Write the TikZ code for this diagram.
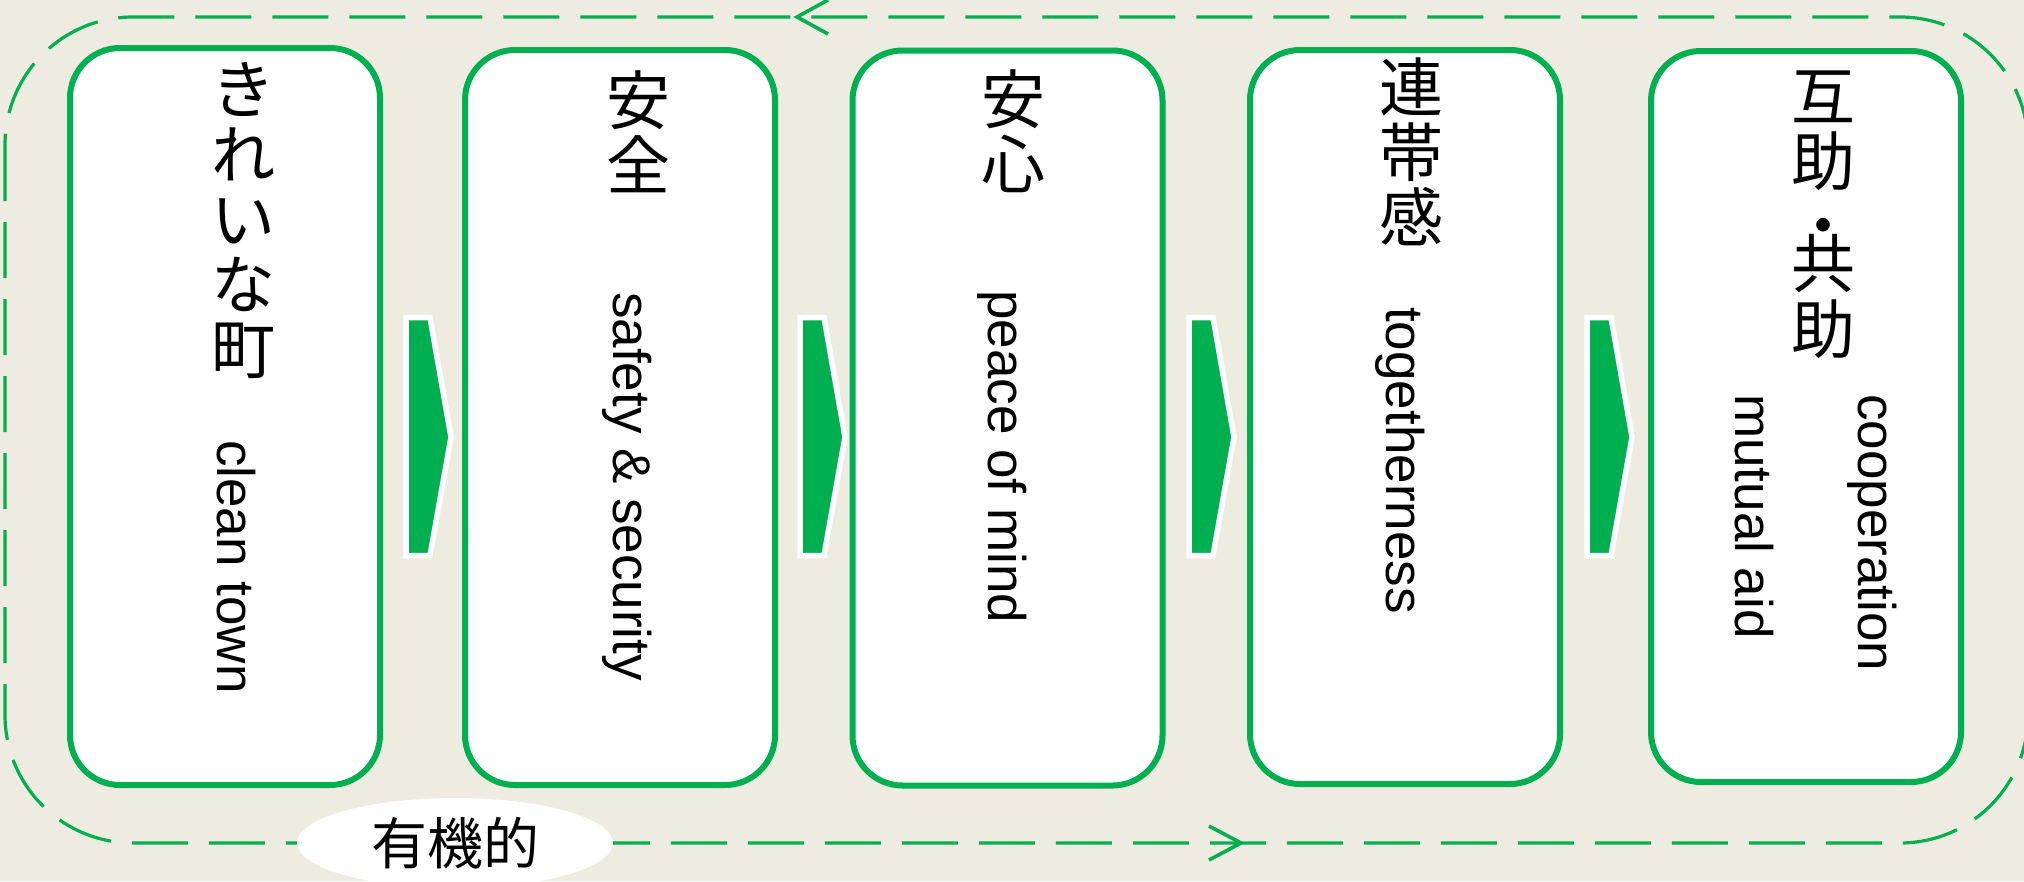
\documentclass[tikz,border=0pt]{standalone}
\usepackage{fontspec}
\setmainfont{Liberation Sans}
\newfontfamily\jp{Noto Sans CJK JP}
\usetikzlibrary{shapes.geometric,calc}
\definecolor{bgbeige}{HTML}{EEECE1}
\definecolor{okgreen}{HTML}{00B050}
\begin{document}
\begin{tikzpicture}[x=1pt,y=-1pt,
  box/.style={draw=okgreen, line width=6pt, fill=white, rounded corners=50pt,
    minimum width=310pt, inner sep=0pt},
  jpcol/.style={font=\jp\fontsize{64}{65}\selectfont, align=center, inner sep=0pt},
  entext/.style={font=\fontsize{53}{60}\selectfont, rotate=-90, anchor=base west, inner sep=0pt},
  loopline/.style={draw=okgreen, line width=3.2pt, dash pattern=on 56pt off 21pt, rounded corners=128pt},
  loophead/.style={draw=okgreen, line width=3.6pt, line join=miter},
  chevron/.style={fill=okgreen, draw=white, line width=5.5pt, line join=miter},
  chev/.pic={\path[chevron] (3,-119.5) -- (27,-119.5) -- (48,0) -- (27,118.5) -- (3,118.5) -- cycle;}
]
\useasboundingbox (0,0) rectangle (2024,881);
\fill[bgbeige] (0,0) rectangle (2024,881);
\clip (0,0) rectangle (2024,881);

% organic loop
\draw[loopline] (5,17) rectangle (2028,843);
\coordinate (toptip) at (797,17);
\coordinate (bottip) at (1241,843);
\draw[loophead] ($(toptip)+(31,-17)$) -- (toptip) -- ($(toptip)+(31,17)$);
\draw[loophead] ($(bottip)+(-32,-17)$) -- (bottip) -- ($(bottip)+(-32,17)$);

% boxes
\node[box, minimum height=737pt] (b1) at (225,416.5) {};
\node[box, minimum height=735pt] (b2) at (620,417.5) {};
\node[box, minimum height=735pt] (b3) at (1007.5,418) {};
\node[box, minimum height=734pt] (b4) at (1405,417) {};
\node[box, minimum height=731pt] (b5) at (1806,416.5) {};

% chevrons
\pic at (403,437) {chev};
\pic at (797,437) {chev};
\pic at (1186,437) {chev};
\pic at (1584,437) {chev};

% Japanese columns
\node[jpcol] (j1) at (243,221) {き\\れ\\い\\な\\町};
\node[jpcol] (j2) at (638,131.5) {安\\全};
\node[jpcol] (j3) at (1013,131.5) {安\\心};
\node[jpcol] (j4) at (1411,151.5) {連\\帯\\感};
\node[jpcol] (j5) at (1823,214.5) {互\\助\\[-1pt]・\\[-27pt]共\\[1pt]助};

% English
\node[entext] (e1) at (217,440) {clean town};
\node[entext] (e2) at (613,292) {safety \& security};
\node[entext] (e3) at (988,290) {peace of mind};
\node[entext] (e4) at (1386,307) {togetherness};
\node[entext] (e5a) at (1858,394) {cooperation};
\node[entext] (e5b) at (1735,394) {mutual aid};

% label
\node[ellipse, fill=white, minimum width=316pt, minimum height=90pt, inner sep=0pt,
  font=\jp\fontsize{56}{60}\selectfont] (org) at (455,843) {有機的};
\end{tikzpicture}
\end{document}
